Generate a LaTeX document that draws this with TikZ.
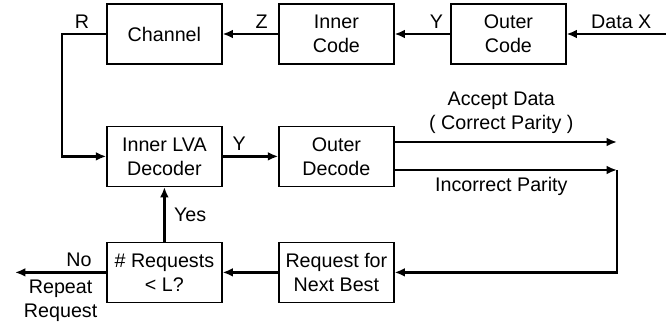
\documentclass[tikz,border=0pt]{standalone}
\usepackage{fontspec}
\setmainfont{Liberation Sans}
\usepackage{tikz}
\usetikzlibrary{calc,positioning,arrows.meta}

\begin{document}
\begin{tikzpicture}[
  blockbox/.style={
    rectangle, draw=black, line width=0.9pt,
    minimum width=28.75mm, minimum height=15mm,
    inner sep=2pt, align=center,
    font=\fontsize{14}{17}\selectfont,
  },
  flow/.style={
    line width=1.8pt,
    -{Latex[length=2.6mm,width=2.2mm]},
  },
  tag/.style={
    font=\fontsize{14}{17}\selectfont, inner sep=1pt, align=center,
  },
]
\useasboundingbox (0,0) rectangle (166.5mm,-81.25mm);

% Row 1: encoder chain
\node[blockbox] (chan)  at (41.1mm, -8.5mm) {Channel};
\node[blockbox] (inner) at (84.1mm, -8.5mm) {Inner\\Code};
\node[blockbox] (outer) at (127.1mm, -8.5mm) {Outer\\Code};

% Row 2: decoders
\node[blockbox] (lva)   at (41.1mm, -39.1mm) {Inner LVA\\Decoder};
\node[blockbox] (odec)  at (84.1mm, -39.1mm) {Outer\\Decode};

% Row 3: retransmission logic
\node[blockbox] (count) at (41.1mm, -68.1mm) {\# Requests\\{<} L?};
\node[blockbox] (next)  at (84.1mm, -68.1mm) {Request for\\Next Best};

% free ends
\coordinate (datain) at (166.5mm, -8.5mm);
\coordinate (rturn)  at (15.5mm, -8.5mm);
\coordinate (accept) at (154.25mm, -35.5mm);
\coordinate (bad)    at (154.25mm, -42.5mm);
\coordinate (noend)  at (3.75mm, -68.1mm);

% encoder chain
\draw[flow] (datain) -- node[tag, above=2pt, pos=0.45] {Data X} (outer.east);
\draw[flow] (outer.west) -- node[tag, above=2pt, pos=0.25] {Y} (inner.east);
\draw[flow] (inner.west) -- node[tag, above=2pt, pos=0.3] {Z} (chan.east);
\draw[flow] (chan.west) -- node[tag, above=2pt, pos=0.55] {R} (rturn) |- (lva.west);

% decoding
\draw[flow] (lva.east) -- node[tag, above=2pt, pos=0.3] {Y} (odec.west);
\draw[flow] (odec.east |- accept) -- (accept)
  node[tag, above=4pt, pos=0.48] {Accept Data\\( Correct Parity )};
\draw[flow] (odec.east |- bad) -- (bad)
  node[tag, below=3pt, pos=0.48] {Incorrect Parity};
\draw[flow] (bad) |- (next.east);

% request loop
\draw[flow] (next.west) -- (count.east);
\draw[flow] (count.north) -- node[tag, right=5pt] {Yes} (lva.south);
\draw[flow] (count.west) -- node[tag, above=2pt, pos=0.3] {No} (noend);
\node[tag, below=4pt] (repeat) at ($(noend)!0.5!(count.west)$) {Repeat\\Request};

\end{tikzpicture}
\end{document}
